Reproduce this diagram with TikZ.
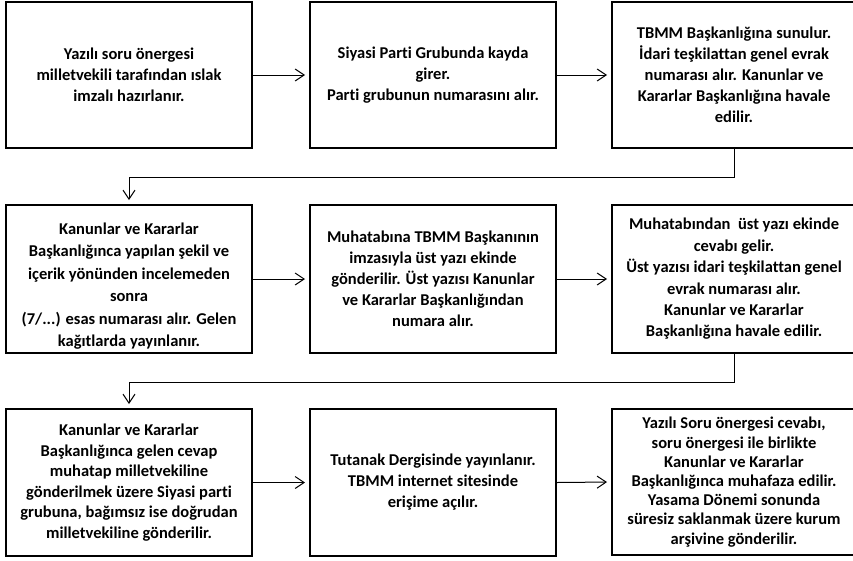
\documentclass[tikz,border=0pt]{standalone}
\usepackage{fontspec}
\setmainfont{Carlito}[Ligatures=CommonOff]
\usetikzlibrary{arrows.meta}
\begin{document}
\begin{tikzpicture}[x=1pt,y=-1pt,
  stepbox/.style={draw=black,line width=2pt,fill=white,align=center,inner sep=0pt,
    font=\fontsize{16.5}{21}\selectfont\bfseries},
  conn/.style={line width=1pt,-{Straight Barb[length=9pt,width=12pt,line width=1pt]},shorten >=4pt}]
\useasboundingbox (0,0) rectangle (853,560);
\clip (0,0) rectangle (853,560);
\node[stepbox,minimum width=246pt,minimum height=146pt] (n1) at (129,75)
  {Yazılı soru önergesi\\milletvekili tarafından ıslak\\imzalı hazırlanır.};
\node[stepbox,minimum width=246pt,minimum height=146pt] (n2) at (433,75)
  {Siyasi Parti Grubunda kayda\\girer.\\Parti grubunun numarasını alır.};
\node[stepbox,minimum width=244pt,minimum height=146pt] (n3) at (734,75)
  {TBMM Başkanlığına sunulur.\\İdari teşkilattan genel evrak\\numarası alır. Kanunlar ve\\Kararlar Başkanlığına havale\\edilir.};
\node[stepbox,minimum width=246pt,minimum height=148pt,
  font=\fontsize{16.5}{22.5}\selectfont\bfseries] (n4) at (129,279)
  {\rule{0pt}{26pt}Kanunlar ve Kararlar\\Başkanlığınca yapılan şekil ve\\içerik yönünden incelemeden\\sonra\\(7/...) esas numarası alır. Gelen\\kağıtlarda yayınlanır.};
\node[stepbox,minimum width=246pt,minimum height=148pt] (n5) at (433,279)
  {Muhatabına TBMM Başkanının\\imzasıyla üst yazı ekinde\\gönderilir. Üst yazısı Kanunlar\\ve Kararlar Başkanlığından\\numara alır.};
\node[stepbox,minimum width=244pt,minimum height=148pt,
  font=\fontsize{16.5}{21.4}\selectfont\bfseries] (n6) at (734,279)
  {Muhatabından~ üst yazı ekinde\\cevabı gelir.\\Üst yazısı idari teşkilattan genel\\evrak numarası alır.\\Kanunlar ve Kararlar\\Başkanlığına havale edilir.};
\node[stepbox,minimum width=246pt,minimum height=147pt,
  font=\fontsize{16.5}{20.6}\selectfont\bfseries] (n7) at (129,482.5)
  {Kanunlar ve Kararlar\\Başkanlığınca gelen cevap\\muhatap milletvekiline\\gönderilmek üzere Siyasi parti\\grubuna, bağımsız ise doğrudan\\milletvekiline gönderilir.};
\node[stepbox,minimum width=246pt,minimum height=147pt] (n8) at (433,482.5)
  {Tutanak Dergisinde yayınlanır.\\TBMM internet sitesinde\\erişime açılır.};
\node[stepbox,minimum width=244pt,minimum height=146pt,
  font=\fontsize{16.5}{19.2}\selectfont\bfseries] (n9) at (734,482)
  {Yazılı Soru önergesi cevabı,\\soru önergesi ile birlikte\\Kanunlar ve Kararlar\\Başkanlığınca muhafaza edilir.\\Yasama Dönemi sonunda\\süresiz saklanmak üzere kurum\\arşivine gönderilir.};
\draw[conn] (n1.east) -- (n2.west);
\draw[conn] (n2.east) -- (n3.west);
\draw[conn] (n4.east) -- (n5.west);
\draw[conn] (n5.east) -- (n6.west);
\draw[conn] (n7.east) -- (n8.west);
\draw[conn] (n8.east) -- (n9.west);
\draw[conn] (n3.south) -- ++(0,28) -| (n4.north);
\draw[conn] (n6.south) -- ++(0,28) -| (n7.north);
\end{tikzpicture}
\end{document}
